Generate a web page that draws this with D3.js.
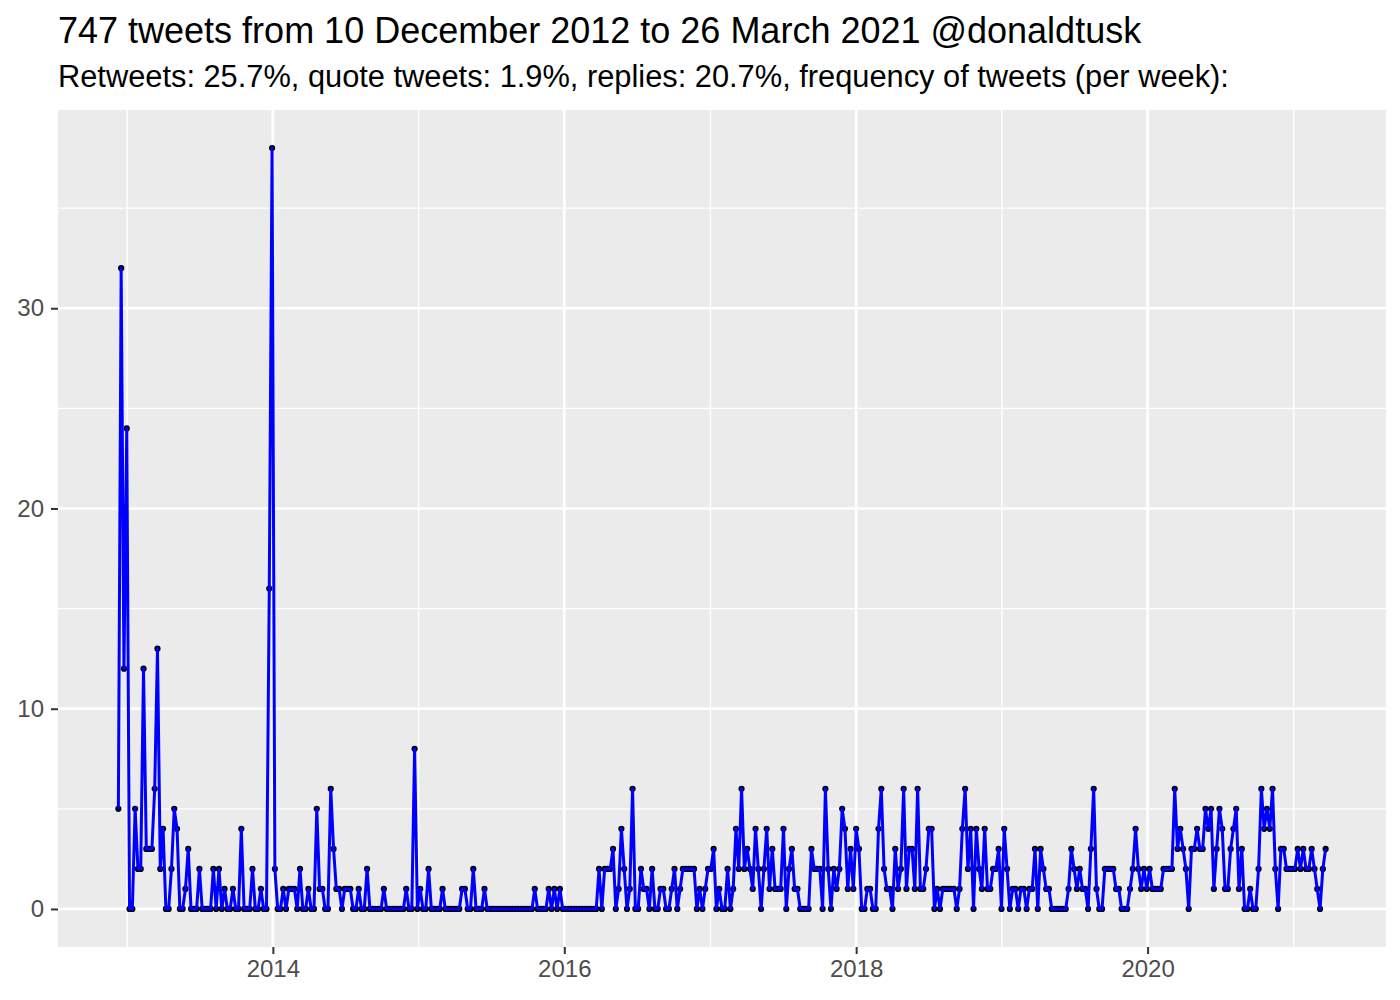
<!DOCTYPE html>
<html lang="en">
<head>
    <meta charset="UTF-8">
    <title>@donaldtusk tweets per week</title>
    <script src="https://d3js.org/d3.v7.min.js"></script>
    <style>
        body {
            margin: 0;
            background-color: #fff;
        }

        text {
            font-family: "Liberation Sans", Arial, Helvetica, sans-serif;
        }

        .tick text {
            fill: #4d4d4d;
            font-size: 24px;
        }

        .tick line {
            stroke: #333;
            stroke-width: 2px;
        }
    </style>
</head>
<body>
    <script>
        // Weekly tweet counts, first week starting 10 December 2012
        const weekStart = "2012-12-10";
        const tweetsPerWeek = [
            5, 32, 12, 24, 0, 0, 5, 2, 2, 12,
            3, 3, 3, 6, 13, 2, 4, 0, 0, 2,
            5, 4, 0, 0, 1, 3, 0, 0, 0, 2,
            0, 0, 0, 0, 2, 0, 2, 0, 1, 0,
            0, 1, 0, 0, 4, 0, 0, 0, 2, 0,
            0, 1, 0, 0, 16, 38, 2, 0, 0, 1,
            0, 1, 1, 1, 0, 2, 0, 0, 1, 0,
            0, 5, 1, 1, 0, 0, 6, 3, 1, 1,
            0, 1, 1, 1, 0, 0, 1, 0, 0, 2,
            0, 0, 0, 0, 0, 1, 0, 0, 0, 0,
            0, 0, 0, 1, 0, 0, 8, 0, 1, 0,
            0, 2, 0, 0, 0, 0, 1, 0, 0, 0,
            0, 0, 0, 1, 1, 0, 0, 2, 0, 0,
            0, 1, 0, 0, 0, 0, 0, 0, 0, 0,
            0, 0, 0, 0, 0, 0, 0, 0, 0, 1,
            0, 0, 0, 0, 1, 0, 1, 0, 1, 0,
            0, 0, 0, 0, 0, 0, 0, 0, 0, 0,
            0, 0, 2, 0, 2, 2, 2, 3, 0, 1,
            4, 2, 0, 1, 6, 0, 0, 2, 1, 1,
            0, 2, 0, 0, 1, 1, 0, 0, 1, 2,
            0, 1, 2, 2, 2, 2, 2, 0, 1, 0,
            1, 2, 2, 3, 0, 1, 0, 0, 2, 0,
            1, 4, 2, 6, 2, 3, 2, 1, 4, 2,
            0, 2, 4, 1, 3, 1, 1, 1, 4, 0,
            2, 3, 1, 1, 0, 0, 0, 0, 3, 2,
            2, 2, 0, 6, 2, 0, 2, 1, 2, 5,
            4, 1, 3, 1, 4, 3, 0, 0, 1, 1,
            0, 0, 4, 6, 2, 1, 1, 0, 3, 1,
            2, 6, 1, 3, 3, 1, 6, 1, 1, 2,
            4, 4, 0, 1, 0, 1, 1, 1, 1, 1,
            0, 1, 4, 6, 2, 4, 0, 4, 2, 1,
            4, 1, 1, 2, 2, 3, 0, 4, 2, 0,
            1, 1, 0, 1, 1, 0, 1, 1, 3, 0,
            3, 2, 1, 1, 0, 0, 0, 0, 0, 0,
            1, 3, 2, 1, 2, 1, 1, 0, 3, 6,
            1, 0, 0, 2, 2, 2, 2, 1, 1, 0,
            0, 0, 1, 2, 4, 2, 1, 2, 1, 2,
            1, 1, 1, 1, 2, 2, 2, 2, 6, 3,
            4, 3, 2, 0, 3, 3, 4, 3, 3, 5,
            4, 5, 1, 3, 5, 4, 1, 1, 3, 4,
            5, 1, 3, 0, 0, 1, 0, 0, 2, 6,
            4, 5, 4, 6, 2, 0, 3, 3, 2, 2,
            2, 2, 3, 2, 3, 2, 2, 3, 2, 1,
            0, 2, 3
        ];

        const yTicks = [0, 10, 20, 30];
        const yMinor = [5, 15, 25, 35];
        const xTickYears = [2014, 2016, 2018, 2020];
        const xMinorYears = [2013, 2015, 2017, 2019, 2021];

        const titleText = "747 tweets from 10 December 2012 to 26 March 2021 @donaldtusk";
        const subtitleText = "Retweets: 25.7%, quote tweets: 1.9%, replies: 20.7%, frequency of tweets (per week):";

        const width = 1400;
        const height = 1000;
        const panel = { left: 58, right: 1386, top: 110, bottom: 947 };

        const svg = d3.select("body").append("svg")
            .attr("width", width)
            .attr("height", height);

        const start = new Date(weekStart + "T00:00:00Z");
        const data = tweetsPerWeek.map((n, i) => ({ date: d3.utcDay.offset(start, 7 * i), n: n }));

        // ggplot style 5% expansion on both axes
        const [t0, t1] = d3.extent(data, d => d.date);
        const pad = (t1 - t0) * 0.05;
        const x = d3.scaleUtc()
            .domain([new Date(+t0 - pad), new Date(+t1 + pad)])
            .range([panel.left, panel.right]);

        const yMax = d3.max(tweetsPerWeek);
        const y = d3.scaleLinear()
            .domain([-yMax * 0.05, yMax * 1.05])
            .range([panel.bottom, panel.top]);

        const yearDate = yr => new Date(Date.UTC(yr, 0, 1));

        // Panel background
        svg.append("rect")
            .attr("x", panel.left)
            .attr("y", panel.top)
            .attr("width", panel.right - panel.left)
            .attr("height", panel.bottom - panel.top)
            .attr("fill", "#ebebeb");

        const grid = svg.append("g");

        // minor grid
        grid.selectAll(".xminor")
            .data(xMinorYears)
            .enter().append("line")
            .attr("x1", d => x(yearDate(d))).attr("x2", d => x(yearDate(d)))
            .attr("y1", panel.top).attr("y2", panel.bottom)
            .attr("stroke", "#fff").attr("stroke-width", 1.4);

        grid.selectAll(".yminor")
            .data(yMinor)
            .enter().append("line")
            .attr("x1", panel.left).attr("x2", panel.right)
            .attr("y1", d => y(d)).attr("y2", d => y(d))
            .attr("stroke", "#fff").attr("stroke-width", 1.4);

        // major grid
        grid.selectAll(".xmajor")
            .data(xTickYears)
            .enter().append("line")
            .attr("x1", d => x(yearDate(d))).attr("x2", d => x(yearDate(d)))
            .attr("y1", panel.top).attr("y2", panel.bottom)
            .attr("stroke", "#fff").attr("stroke-width", 2.7);

        grid.selectAll(".ymajor")
            .data(yTicks)
            .enter().append("line")
            .attr("x1", panel.left).attr("x2", panel.right)
            .attr("y1", d => y(d)).attr("y2", d => y(d))
            .attr("stroke", "#fff").attr("stroke-width", 2.7);

        // Axes
        const xAxis = d3.axisBottom(x)
            .tickValues(xTickYears.map(yearDate))
            .tickFormat(d3.utcFormat("%Y"))
            .tickSize(7)
            .tickPadding(6);

        svg.append("g")
            .attr("transform", `translate(0,${panel.bottom})`)
            .call(xAxis)
            .call(g => g.select(".domain").remove());

        const yAxis = d3.axisLeft(y)
            .tickValues(yTicks)
            .tickSize(7)
            .tickPadding(7);

        svg.append("g")
            .attr("transform", `translate(${panel.left},0)`)
            .call(yAxis)
            .call(g => g.select(".domain").remove());

        svg.selectAll(".tick text").attr("font-family", null).attr("font-size", null);

        // Points under the line
        svg.append("g")
            .selectAll("circle")
            .data(data)
            .enter().append("circle")
            .attr("cx", d => x(d.date))
            .attr("cy", d => y(d.n))
            .attr("r", 3.1)
            .attr("fill", "#000");

        const line = d3.line()
            .x(d => x(d.date))
            .y(d => y(d.n));

        svg.append("path")
            .datum(data)
            .attr("d", line)
            .attr("fill", "none")
            .attr("stroke", "#0000ff")
            .attr("stroke-width", 3)
            .attr("stroke-linejoin", "round");

        // Titles
        svg.append("text")
            .attr("x", panel.left)
            .attr("y", 43)
            .attr("font-size", 36)
            .attr("fill", "#000")
            .text(titleText);

        svg.append("text")
            .attr("x", panel.left)
            .attr("y", 87)
            .attr("font-size", 30.8)
            .attr("fill", "#000")
            .text(subtitleText);
    </script>
</body>
</html>
